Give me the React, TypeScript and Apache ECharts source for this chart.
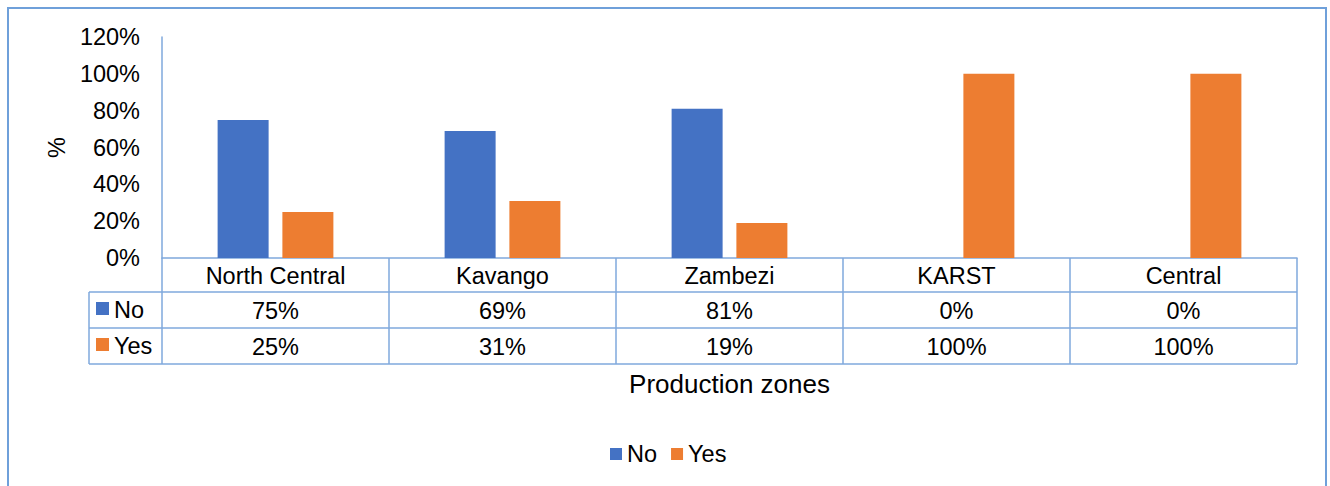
import React, { useEffect, useRef } from "react";
import * as echarts from "echarts";

const categories = ["North Central", "Kavango", "Zambezi", "KARST", "Central"];
const noValues = [75, 69, 81, 0, 0];
const yesValues = [25, 31, 19, 100, 100];
const seriesNames = ["No", "Yes"];
const yTicks = [0, 20, 40, 60, 80, 100, 120];

const BLUE = "#4472C4";
const ORANGE = "#ED7D31";
const LINE = "#7FA8DC";
const FONT = "Liberation Sans, Arial, sans-serif";
const FS = 23.5;

export default function App() {
  const ref = useRef<HTMLDivElement>(null);
  useEffect(() => {
    if (!ref.current) return;
    const chart = echarts.init(ref.current, null, { renderer: "svg" });
    const W = 1330;
    const plotL = 162, plotR = 1297, plotT = 37, axisY = 258;
    const rowH1 = 34, rowH = 36;
    const r1 = axisY + rowH1, r2 = r1 + rowH, r3 = r2 + rowH;
    const tableL = 89;
    const lineEl = (x1: number, y1: number, x2: number, y2: number) => ({
      type: "line",
      shape: { x1, y1, x2, y2 },
      style: { stroke: LINE, lineWidth: 1.5 },
      silent: true,
    });
    const rowLabel = (y: number, color: string, name: string) => [
      { type: "rect", shape: { x: 96, y: y + 10, width: 13, height: 13 }, style: { fill: color } },
      {
        type: "text",
        x: 114,
        y: y + rowH / 2,
        style: { text: name, font: `${FS}px ${FONT}`, fill: "#000", textVerticalAlign: "middle" },
      },
    ];
    chart.setOption({
      animation: false,
      textStyle: { fontFamily: FONT },
      grid: { left: plotL, right: W - plotR, top: plotT, bottom: 486 - axisY },
      legend: {
        data: seriesNames,
        left: 605,
        top: 437,
        itemWidth: 12,
        itemHeight: 12,
        itemGap: 14,
        icon: "rect",
        textStyle: { fontSize: FS, color: "#000", fontFamily: FONT },
      },
      xAxis: [
        {
          type: "category",
          data: categories,
          position: "bottom",
          axisLine: { show: true, lineStyle: { color: LINE, width: 1.5 } },
          axisTick: { show: true, length: r3 - axisY, interval: 0, lineStyle: { color: LINE, width: 1.5 } },
          axisLabel: { fontSize: FS, color: "#000", margin: 6, interval: 0, fontFamily: FONT },
          name: "Production zones",
          nameLocation: "middle",
          nameGap: 113,
          nameTextStyle: { fontSize: 26, color: "#000", fontFamily: FONT },
        },
        {
          type: "category",
          data: noValues.map((v) => v + "%"),
          position: "bottom",
          offset: rowH1,
          axisLine: { show: false },
          axisTick: { show: false },
          axisLabel: { fontSize: FS, color: "#000", margin: 7, interval: 0, fontFamily: FONT },
        },
        {
          type: "category",
          data: yesValues.map((v) => v + "%"),
          position: "bottom",
          offset: rowH1 + rowH,
          axisLine: { show: false },
          axisTick: { show: false },
          axisLabel: { fontSize: FS, color: "#000", margin: 7, interval: 0, fontFamily: FONT },
        },
      ],
      yAxis: {
        type: "value",
        min: yTicks[0],
        max: yTicks[yTicks.length - 1],
        interval: 20,
        axisLine: { show: true, lineStyle: { color: LINE, width: 1.5 } },
        axisTick: { show: false },
        splitLine: { show: false },
        axisLabel: { fontSize: FS, color: "#000", margin: 22, formatter: (v: number) => v + "%", fontFamily: FONT },
        name: "%",
        nameLocation: "middle",
        nameGap: 92,
        nameRotate: 90,
        nameTextStyle: { fontSize: FS, color: "#000", fontFamily: FONT },
      },
      series: [
        { name: seriesNames[0], type: "bar", data: noValues, barWidth: 51, barGap: "27%", itemStyle: { color: BLUE }, xAxisIndex: 0 },
        { name: seriesNames[1], type: "bar", data: yesValues, barWidth: 51, barGap: "27%", itemStyle: { color: ORANGE }, xAxisIndex: 0 },
      ],
      graphic: [
        {
          type: "rect",
          shape: { x: 8, y: 8, width: 1318, height: 500 },
          style: { fill: "none", stroke: "#6FA0DA", lineWidth: 2 },
          silent: true,
        },
        lineEl(tableL, r1, plotR, r1),
        lineEl(tableL, r2, plotR, r2),
        lineEl(tableL, r3, plotR, r3),
        lineEl(tableL, r1, tableL, r3),
        ...rowLabel(r1, BLUE, seriesNames[0]),
        ...rowLabel(r2, ORANGE, seriesNames[1]),
      ],
    });
    return () => chart.dispose();
  }, []);
  return (
    <div
      ref={ref}
      style={{ position: "fixed", left: 0, top: 0, width: 1330, height: 486, background: "#fff" }}
    />
  );
}
